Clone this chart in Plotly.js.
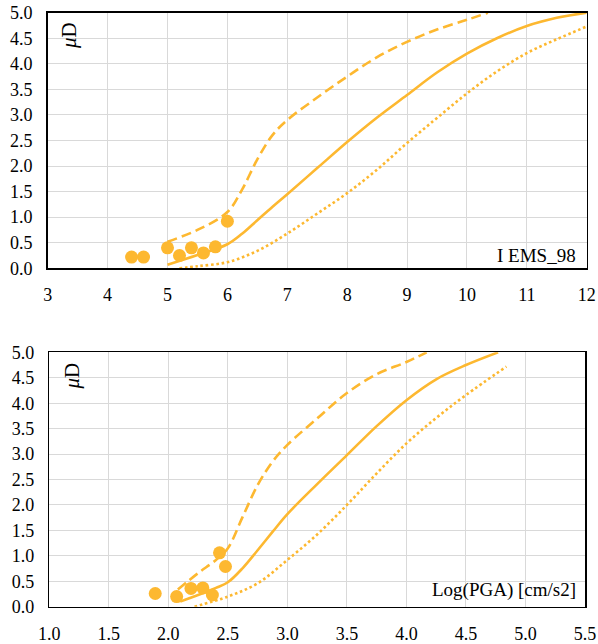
<!DOCTYPE html>
<html>
<head>
<meta charset="utf-8">
<script src="https://cdn.plot.ly/plotly-3.0.1.min.js"></script>
<style>html,body{margin:0;padding:0;background:#fff;}#chart{width:598px;height:644px;}</style>
</head>
<body>
<div id="chart"></div>
<script>
// ---- Top panel (I EMS_98) ----
const topObsX = [4.4, 4.6, 5.0, 5.2, 5.4, 5.6, 5.8, 6.0];
const topObsY = [0.22, 0.22, 0.40, 0.25, 0.40, 0.30, 0.42, 0.92];

const topMeanX = [5.0, 5.5, 6.0, 6.25, 6.5, 6.75, 7.0, 7.5, 8.0, 8.5, 9.0, 9.5, 10.0, 10.5, 11.0, 11.5, 12.0];
const topMeanY = [0.07, 0.26, 0.47, 0.68, 0.94, 1.20, 1.45, 1.96, 2.47, 2.95, 3.39, 3.83, 4.20, 4.50, 4.74, 4.90, 5.0];

const topUpperX = [5.0, 5.5, 6.0, 6.25, 6.5, 6.75, 7.0, 7.5, 8.0, 8.5, 9.0, 9.5, 10.0, 10.35];
const topUpperY = [0.52, 0.75, 1.10, 1.55, 2.13, 2.60, 2.90, 3.34, 3.75, 4.13, 4.43, 4.67, 4.86, 5.0];

const topLowerX = [5.2, 5.5, 6.0, 6.5, 7.0, 7.5, 8.0, 8.5, 9.0, 9.5, 10.0, 10.5, 11.0, 11.5, 12.0];
const topLowerY = [0.0, 0.04, 0.12, 0.34, 0.68, 1.07, 1.47, 1.93, 2.45, 2.94, 3.42, 3.85, 4.21, 4.48, 4.73];

// ---- Bottom panel (Log(PGA)) ----
const botObsX = [1.89, 2.07, 2.19, 2.29, 2.37, 2.43, 2.48];
const botObsY = [0.26, 0.20, 0.36, 0.37, 0.23, 1.06, 0.79];

const botMeanX = [2.1, 2.25, 2.4, 2.5, 2.625, 2.75, 2.875, 3.0, 3.25, 3.5, 3.75, 4.0, 4.25, 4.5, 4.77];
const botMeanY = [0.10, 0.23, 0.37, 0.48, 0.76, 1.11, 1.47, 1.82, 2.41, 2.98, 3.55, 4.06, 4.47, 4.75, 5.0];

const botUpperX = [2.08, 2.25, 2.4, 2.5, 2.625, 2.75, 2.875, 3.0, 3.25, 3.5, 3.75, 4.0, 4.17];
const botUpperY = [0.34, 0.66, 0.92, 1.15, 1.77, 2.39, 2.85, 3.18, 3.70, 4.20, 4.57, 4.81, 5.0];

const botLowerX = [2.22, 2.5, 2.75, 3.0, 3.25, 3.5, 3.75, 4.0, 4.25, 4.5, 4.84];
const botLowerY = [0.0, 0.20, 0.46, 0.92, 1.42, 2.0, 2.62, 3.21, 3.71, 4.16, 4.72];

const yTicks = [0, 0.5, 1, 1.5, 2, 2.5, 3, 3.5, 4, 4.5, 5];

const C = '#FDB830';
const W = 2.6;
const SERIF = 'Liberation Serif, serif';

function lineTrace(x, y, dash, xa, ya) {
  return {x: x, y: y, mode: 'lines', xaxis: xa, yaxis: ya,
    line: {color: C, width: W, dash: dash, shape: 'spline', smoothing: 1.0},
    hoverinfo: 'skip', showlegend: false};
}
function ptTrace(x, y, xa, ya) {
  return {x: x, y: y, mode: 'markers', xaxis: xa, yaxis: ya,
    marker: {color: C, size: 13, line: {width: 0}}, showlegend: false};
}

const DASH = '10px,5px';
const DOT = '2.6px,2.7px';

const data = [
  lineTrace(topUpperX, topUpperY, DASH, 'x', 'y'),
  lineTrace(topMeanX, topMeanY, 'solid', 'x', 'y'),
  lineTrace(topLowerX, topLowerY, DOT, 'x', 'y'),
  ptTrace(topObsX, topObsY, 'x', 'y'),
  lineTrace(botUpperX, botUpperY, DASH, 'x2', 'y2'),
  lineTrace(botMeanX, botMeanY, 'solid', 'x2', 'y2'),
  lineTrace(botLowerX, botLowerY, DOT, 'x2', 'y2'),
  ptTrace(botObsX, botObsY, 'x2', 'y2')
];

function axBase() {
  return {
    showgrid: true, gridcolor: '#D9D9D9', gridwidth: 1,
    showline: true, linecolor: '#000', linewidth: 1.5, mirror: true,
    zeroline: false, ticks: 'outside', ticklen: 10, tickcolor: 'rgba(0,0,0,0)',
    tickfont: {family: SERIF, size: 18, color: '#000'}, fixedrange: true
  };
}

const layout = {
  width: 598, height: 644,
  margin: {l: 0, r: 0, t: 0, b: 0},
  font: {family: SERIF, color: '#000'},
  paper_bgcolor: '#fff', plot_bgcolor: '#fff',
  showlegend: false,
  xaxis: Object.assign(axBase(), {domain: [0.0798, 0.9811], range: [3, 12], tickvals: [3,4,5,6,7,8,9,10,11,12], anchor: 'y'}),
  yaxis: Object.assign(axBase(), {domain: [0.5834, 0.9803], range: [0, 5], tickvals: yTicks, tickformat: '.1f', anchor: 'x'}),
  xaxis2: Object.assign(axBase(), {domain: [0.0824, 0.9783], range: [1, 5.5], tickvals: [1,1.5,2,2.5,3,3.5,4,4.5,5,5.5], tickformat: '.1f', anchor: 'y2'}),
  yaxis2: Object.assign(axBase(), {domain: [0.0579, 0.4529], range: [0, 5], tickvals: yTicks, tickformat: '.1f', anchor: 'x2'}),
  annotations: [
    {text: '<i>μ</i>D', xref: 'paper', yref: 'paper', x: 69/598, y: 1 - 36/644, xanchor: 'center', yanchor: 'middle',
     textangle: -90, showarrow: false, font: {family: SERIF, size: 21, color: '#000'}},
    {text: '<i>μ</i>D', xref: 'paper', yref: 'paper', x: 71.5/598, y: 1 - 376/644, xanchor: 'center', yanchor: 'middle',
     textangle: -90, showarrow: false, font: {family: SERIF, size: 21, color: '#000'}},
    {text: 'I EMS_98', xref: 'paper', yref: 'paper', x: 578/598, y: 1 - 255/644, xanchor: 'right', yanchor: 'middle',
     showarrow: false, font: {family: SERIF, size: 19, color: '#000'}},
    {text: 'Log(PGA) [cm/s2]', xref: 'paper', yref: 'paper', x: 578/598, y: 1 - 590/644, xanchor: 'right', yanchor: 'middle',
     showarrow: false, font: {family: SERIF, size: 19, color: '#000'}}
  ]
};

Plotly.newPlot('chart', data, layout, {staticPlot: true, displayModeBar: false});
</script>
</body>
</html>
